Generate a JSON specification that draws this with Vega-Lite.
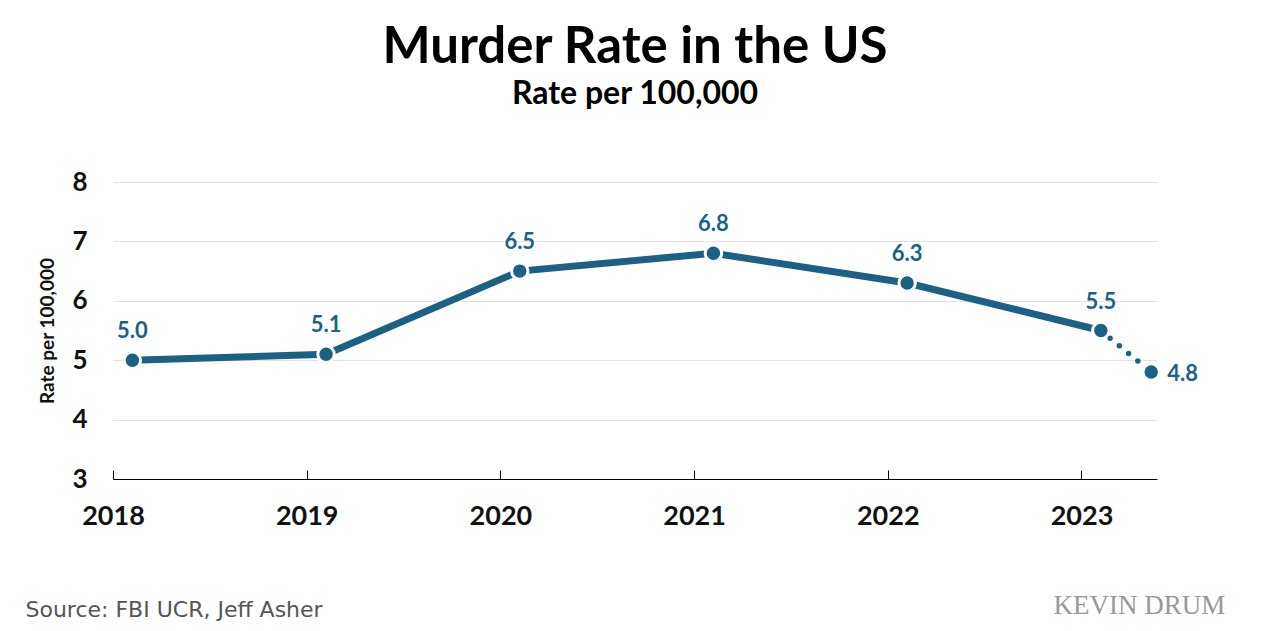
{
  "$schema": "https://vega.github.io/schema/vega-lite/v6.json",
  "width": 1044,
  "height": 297,
  "autosize": {"type": "none"},
  "padding": {"left": 113, "top": 182, "right": 108, "bottom": 152},
  "background": "white",
  "title": {
    "text": "Murder Rate in the US",
    "subtitle": "Rate per 100,000",
    "anchor": "middle",
    "font": "Lato",
    "fontSize": 51,
    "fontWeight": "bold",
    "color": "#000000",
    "subtitleFont": "Lato",
    "subtitleFontSize": 32,
    "subtitleFontWeight": "bold",
    "subtitleColor": "#000000",
    "subtitlePadding": 5,
    "offset": 58
  },
  "config": {
    "view": {"stroke": null},
    "axis": {"labelFont": "Lato", "titleFont": "Lato"}
  },
  "data": {
    "values": [
      {"year": 2018.1, "rate": 5.0, "label": "5.0", "part": "solid"},
      {"year": 2019.1, "rate": 5.1, "label": "5.1", "part": "solid"},
      {"year": 2020.1, "rate": 6.5, "label": "6.5", "part": "solid"},
      {"year": 2021.1, "rate": 6.8, "label": "6.8", "part": "solid"},
      {"year": 2022.1, "rate": 6.3, "label": "6.3", "part": "solid"},
      {"year": 2023.1, "rate": 5.5, "label": "5.5", "part": "solid"},
      {"year": 2023.1, "rate": 5.5, "label": "5.5", "part": "dotted"},
      {"year": 2023.36, "rate": 4.8, "label": "4.8", "part": "dotted"}
    ]
  },
  "resolve": {"axis": {"y": "independent"}},
  "layer": [
    {
      "transform": [{"filter": "datum.part === 'solid'"}],
      "mark": {"type": "line", "color": "#1b6185", "strokeWidth": 7, "strokeCap": "butt"},
      "encoding": {
        "x": {
          "field": "year", "type": "quantitative",
          "scale": {"domain": [2018, 2023.39], "nice": false, "zero": false},
          "axis": {
            "values": [2018, 2019, 2020, 2021, 2022, 2023],
            "format": "d",
            "grid": false,
            "domainColor": "#000000",
            "domainWidth": 1.2,
            "tickColor": "#000000",
            "tickSize": -9,
            "tickWidth": 1,
            "labelFontSize": 27,
            "labelFontWeight": "bold",
            "labelColor": "#111111",
            "labelPadding": 33,
            "labelBaseline": "top",
            "labelFlush": false,
            "title": "Source: FBI UCR, Jeff Asher",
            "titleFont": "DejaVu Sans",
            "titleFontSize": 22,
            "titleFontWeight": "normal",
            "titleColor": "#555555",
            "titleAnchor": "start",
            "titleAlign": "left",
            "titleBaseline": "alphabetic",
            "titleX": -88,
            "titleY": 137
          }
        },
        "y": {
          "field": "rate", "type": "quantitative",
          "scale": {"domain": [3, 8], "nice": false, "zero": false},
          "axis": {
            "values": [3, 4, 5, 6, 7, 8],
            "format": "d",
            "grid": true,
            "gridColor": "#e2e2e2",
            "gridWidth": 1,
            "domain": false,
            "ticks": false,
            "labelFontSize": 26,
            "labelFontWeight": "bold",
            "labelColor": "#111111",
            "labelPadding": 26,
            "title": "Rate per 100,000",
            "titleFontSize": 19,
            "titleFontWeight": "bold",
            "titleColor": "#111111",
            "titlePadding": 14
          }
        }
      }
    },
    {
      "transform": [{"filter": "datum.part === 'dotted'"}],
      "mark": {"type": "line", "color": "#1b6185", "strokeWidth": 5.5, "strokeCap": "round", "strokeDash": [0, 12]},
      "encoding": {
        "x": {"field": "year", "type": "quantitative"},
        "y": {"field": "rate", "type": "quantitative", "axis": null}
      }
    },
    {
      "transform": [{"filter": "datum.part === 'solid' || datum.year > 2023.2"}],
      "mark": {"type": "point", "filled": true, "shape": "circle", "size": 270, "color": "#1b6185", "stroke": "#ffffff", "strokeWidth": 3, "opacity": 1},
      "encoding": {
        "x": {"field": "year", "type": "quantitative"},
        "y": {"field": "rate", "type": "quantitative", "axis": null}
      }
    },
    {
      "transform": [{"filter": "datum.part === 'solid'"}],
      "mark": {"type": "text", "font": "Lato", "fontSize": 22, "fontWeight": "bold", "color": "#1b6185", "baseline": "middle", "align": "center", "dy": -29},
      "encoding": {
        "x": {"field": "year", "type": "quantitative"},
        "y": {"field": "rate", "type": "quantitative", "axis": null},
        "text": {"field": "label"}
      }
    },
    {
      "transform": [{"filter": "datum.year > 2023.2"}],
      "mark": {"type": "text", "font": "Lato", "fontSize": 22, "fontWeight": "bold", "color": "#1b6185", "baseline": "middle", "align": "left", "dx": 16, "dy": 2},
      "encoding": {
        "x": {"field": "year", "type": "quantitative"},
        "y": {
          "field": "rate", "type": "quantitative",
          "axis": {
            "orient": "right",
            "labels": false,
            "ticks": false,
            "domain": false,
            "grid": false,
            "title": "KEVIN DRUM",
            "titleAngle": 0,
            "titleFont": "Liberation Serif",
            "titleFontSize": 27,
            "titleFontWeight": "normal",
            "titleColor": "#999999",
            "titleAlign": "left",
            "titleBaseline": "alphabetic",
            "titleX": -104,
            "titleY": 431
          }
        },
        "text": {"field": "label"}
      }
    }
  ]
}
